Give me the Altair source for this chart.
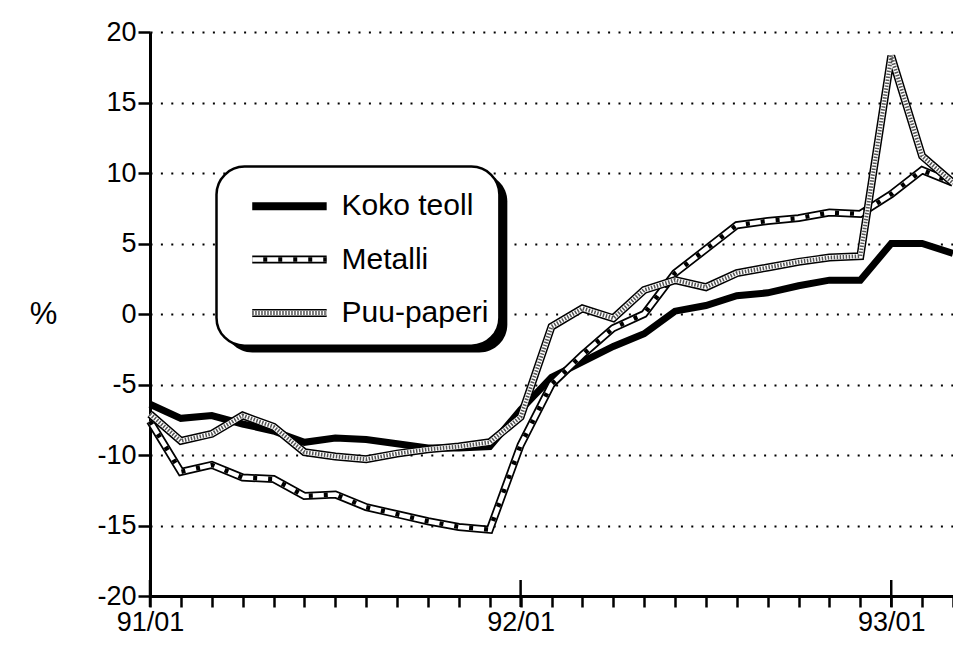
import altair as alt
import pandas as pd

# ---- data (monthly, 91/01 .. 93/03) ----
months = list(range(27))
tick_pos = [0, 12, 24]
tick_labels = ["91/01", "92/01", "93/01"]
series_names = ["Koko teoll", "Metalli", "Puu-paperi"]

koko = [-6.4, -7.4, -7.2, -7.8, -8.3, -9.1, -8.8, -8.9, -9.2, -9.5, -9.5, -9.4,
        -6.8, -4.5, -3.4, -2.3, -1.4, 0.2, 0.6, 1.3, 1.5, 2.0, 2.4, 2.4,
        5.0, 5.0, 4.3]
metalli = [-7.6, -11.2, -10.7, -11.6, -11.7, -12.9, -12.8, -13.7, -14.2, -14.7, -15.1, -15.3,
           -9.3, -5.0, -2.9, -1.0, 0.0, 2.9, 4.6, 6.3, 6.6, 6.8, 7.2, 7.1,
           8.5, 10.2, 9.3]
puu = [-7.1, -9.0, -8.5, -7.2, -8.0, -9.8, -10.1, -10.3, -9.9, -9.6, -9.4, -9.1,
       -7.3, -0.9, 0.4, -0.3, 1.7, 2.4, 1.9, 2.9, 3.3, 3.7, 4.0, 4.1,
       18.3, 11.2, 9.3]
y_ticks = [-20, -15, -10, -5, 0, 5, 10, 15, 20]

df = pd.DataFrame({
    "m": months * 3,
    "series": [series_names[0]] * 27 + [series_names[1]] * 27 + [series_names[2]] * 27,
    "v": koko + metalli + puu,
})

FONT = "Liberation Sans"
W, H = 803, 564
PAD_L, PAD_T = 142, 24
sx, sy = W / 809.0, H / 570.0

label_expr = " : ".join(
    [f"datum.value == {p} ? '{l}'" for p, l in zip(tick_pos, tick_labels)]
) + " : ''"

x_enc = alt.X("m:Q", scale=alt.Scale(domain=[0, 26], nice=False, zero=False),
              axis=alt.Axis(values=months, labelExpr=label_expr, grid=False,
                            tickSize=11, tickWidth=2.5, tickColor="black",
                            domainWidth=3, domainColor="black",
                            labelFontSize=27, labelFont=FONT, labelColor="black",
                            labelPadding=2, labelFlush=False, labelOverlap=False,
                            title=None))
y_enc = alt.Y("v:Q", scale=alt.Scale(domain=[-20, 20], nice=False, zero=False),
              axis=alt.Axis(values=y_ticks, labelExpr="datum.value + ''",
                            grid=True, gridDash=[2, 8.4], gridWidth=2,
                            gridColor="black", tickSize=12, tickWidth=2.5, tickColor="black",
                            domainWidth=3, domainColor="black",
                            labelFontSize=27, labelFont=FONT, labelColor="black",
                            labelPadding=2,
                            title="%", titleAngle=0, titleFontSize=31, titleFont=FONT,
                            titleFontWeight="normal", titleColor="black",
                            titleX=-107, titleY=(321 - 36) * sy, titleAlign="center",
                            titleBaseline="middle"))

base = alt.Chart(df).encode(x=x_enc, y=y_enc)


def ser(name):
    return base.transform_filter(alt.datum.series == name)


koko_l = ser("Koko teoll").mark_line(color="black", strokeWidth=7, strokeJoin="miter")
met_o = ser("Metalli").mark_line(color="black", strokeWidth=8, strokeJoin="miter")
met_i = ser("Metalli").mark_line(color="white", strokeWidth=4.5, strokeJoin="miter")
met_d = ser("Metalli").mark_line(color="black", strokeWidth=4.5, strokeDash=[4, 11],
                                 strokeCap="butt", strokeJoin="miter")
puu_o = ser("Puu-paperi").mark_line(color="black", strokeWidth=8, strokeJoin="miter")
puu_i = ser("Puu-paperi").mark_line(color="white", strokeWidth=5, strokeJoin="miter")
puu_d = ser("Puu-paperi").mark_line(color="#555555", strokeWidth=4, strokeDash=[1.5, 1.5],
                                    strokeCap="butt", strokeJoin="miter")

major = alt.Chart(pd.DataFrame({"m": tick_pos})).mark_rule(
    color="black", strokeWidth=2.5).encode(x=x_enc, y=alt.value(H - 16), y2=alt.value(H + 11))


def px(xp):
    return (xp - 150) * sx


def py(yp):
    return (yp - 36) * sy


# ---- legend box ----
one = pd.DataFrame({"k": [0]})
shadow = alt.Chart(one).mark_rect(color="black", cornerRadius=28).encode(
    x=alt.value(px(225)), x2=alt.value(px(510)), y=alt.value(py(179)), y2=alt.value(py(360)))
box = alt.Chart(one).mark_rect(fill="white", stroke="black", strokeWidth=2.5,
                               cornerRadius=28).encode(
    x=alt.value(px(217)), x2=alt.value(px(502)), y=alt.value(py(172)), y2=alt.value(py(353)))

row_y = [212, 266, 320]
leg = []
for name, yy in zip(series_names, row_y):
    d = pd.DataFrame({"series": [name]})
    c = alt.Chart(d)
    enc = dict(x=alt.value(px(253)), x2=alt.value(px(328)), y=alt.value(py(yy)))
    if name == "Koko teoll":
        leg.append(c.mark_rule(color="black", strokeWidth=8, strokeCap="butt").encode(**enc))
    elif name == "Metalli":
        leg.append(c.mark_rule(color="black", strokeWidth=8, strokeCap="butt").encode(**enc))
        leg.append(c.mark_rule(color="white", strokeWidth=4.5, strokeCap="butt").encode(**enc))
        leg.append(c.mark_rule(color="black", strokeWidth=4.5, strokeDash=[4, 11],
                               strokeDashOffset=-11, strokeCap="butt").encode(**enc))
    else:
        leg.append(c.mark_rule(color="black", strokeWidth=8, strokeCap="butt").encode(**enc))
        leg.append(c.mark_rule(color="white", strokeWidth=5, strokeCap="butt").encode(**enc))
        leg.append(c.mark_rule(color="#555555", strokeWidth=4, strokeDash=[1.5, 1.5],
                               strokeCap="butt").encode(**enc))
    leg.append(c.mark_text(align="left", baseline="middle", fontSize=30, font=FONT,
                           color="black").encode(x=alt.value(px(343)), y=alt.value(py(yy)),
                                                 text="series:N"))

chart = alt.layer(
    koko_l, met_o, met_i, met_d, puu_o, puu_i, puu_d, major, shadow, box, *leg
).properties(
    width=W, height=H,
    padding={"left": PAD_L, "top": PAD_T, "right": 0, "bottom": 45},
    autosize=alt.AutoSizeParams(type="none"),
    background="white",
).configure_view(stroke=None)

chart.save("out.html", embed_options={"renderer": "svg", "actions": False})
